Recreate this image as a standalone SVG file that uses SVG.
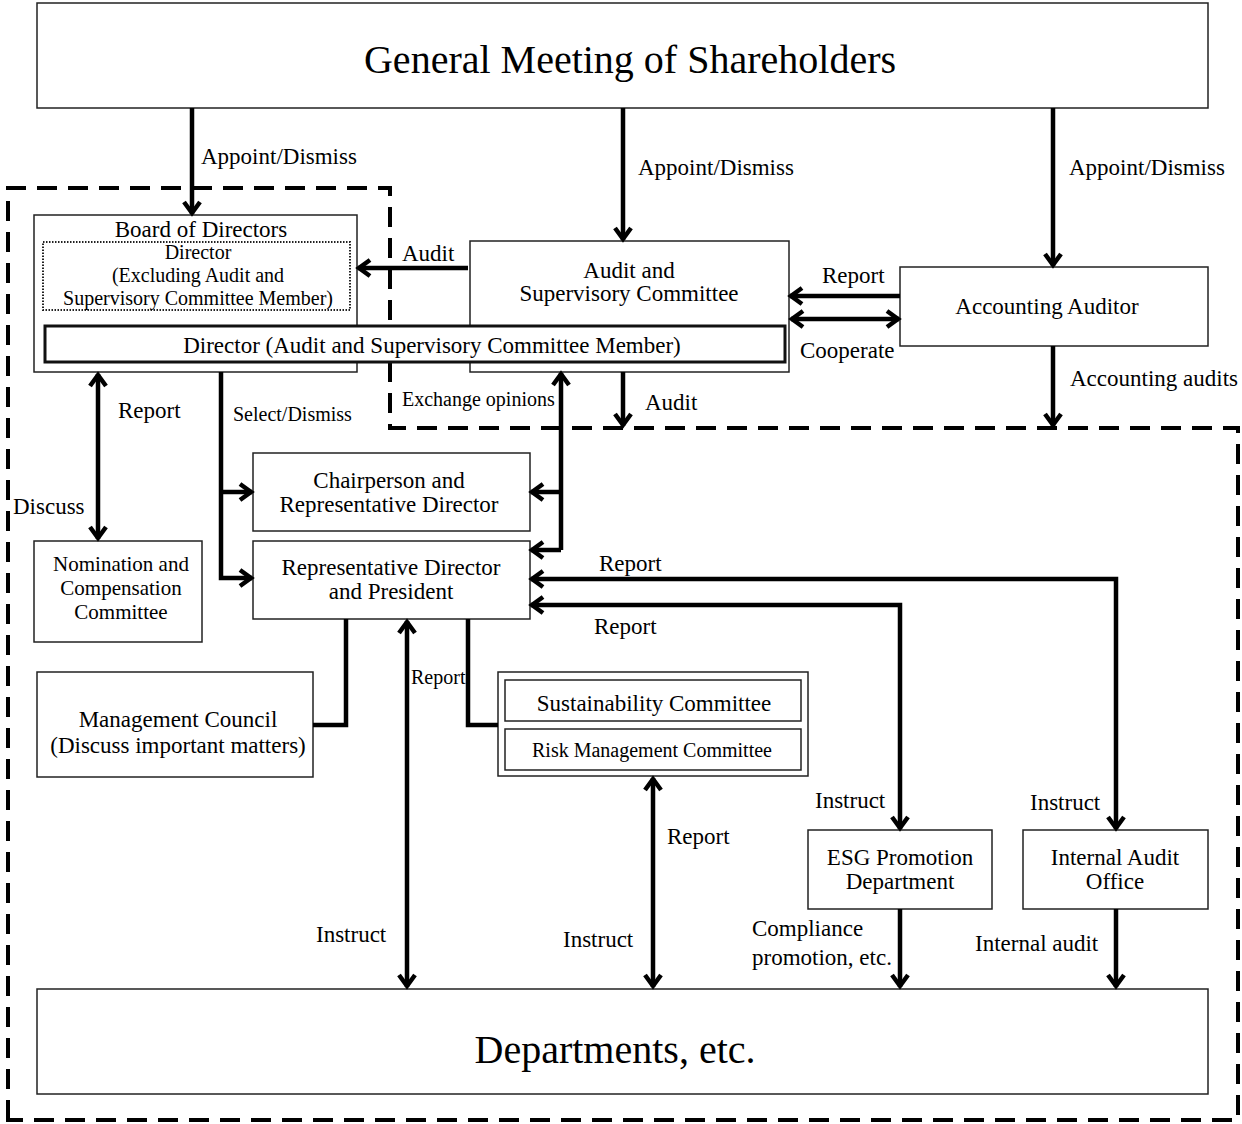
<svg xmlns="http://www.w3.org/2000/svg" width="1242" height="1124" viewBox="0 0 1242 1124">
<defs>
<marker id="ah" viewBox="0 0 18 20" refX="15" refY="10" markerWidth="18" markerHeight="20" markerUnits="userSpaceOnUse" orient="auto-start-reverse">
<path d="M3,2 L14,10 L3,18" fill="none" stroke="#000" stroke-width="4.5" stroke-linejoin="miter" stroke-miterlimit="3"/>
<path d="M8,6 L15,10 L8,14 Z" fill="#000"/>
</marker>
</defs>
<style>
text{font-family:"Liberation Serif","Times New Roman",serif;fill:#000;}
.t{font-size:23px;}
.s{font-size:20px;}
.n{font-size:21px;}
.big{font-size:40px;}
.m{text-anchor:middle;}
.box{fill:#fff;stroke:#222;stroke-width:1.5;}
.c{fill:none;stroke:#000;stroke-width:4.5;}
.a{marker-end:url(#ah);}
.b{marker-start:url(#ah);marker-end:url(#ah);}
.dash{fill:none;stroke:#000;stroke-width:4;stroke-dasharray:20 11;}
</style>
<rect width="1242" height="1124" fill="#fff"/>

<g id="boundary">
<path class="dash" d="M8,1120 L8,188 L390,188 L390,428 L1238,428 L1238,1120 Z"/>
</g>

<g id="gms">
<rect class="box" x="37" y="3" width="1171" height="105"/>
<text class="big m" x="630" y="73">General Meeting of Shareholders</text>
</g>

<g id="board">
<rect class="box" x="34" y="215" width="323" height="157"/>
<text class="t m" x="201" y="237">Board of Directors</text>
<rect x="43" y="242" width="307" height="68" fill="#fff" stroke="#222" stroke-width="2" stroke-dasharray="1.5 1.5"/>
<text class="s m" x="198" y="259">Director</text>
<text class="s m" x="198" y="282">(Excluding Audit and</text>
<text class="s m" x="198" y="305">Supervisory Committee Member)</text>
</g>

<g id="asc">
<rect class="box" x="470" y="241" width="319" height="131"/>
<text class="t m" x="629" y="278">Audit and</text>
<text class="t m" x="629" y="301">Supervisory Committee</text>
</g>

<g id="director-asc">
<rect x="45" y="326" width="740" height="36" fill="#fff" stroke="#111" stroke-width="3"/>
<text class="t m" x="432" y="353">Director (Audit and Supervisory Committee Member)</text>
</g>

<g id="auditor">
<rect class="box" x="900" y="267" width="308" height="79"/>
<text class="t m" x="1047" y="314">Accounting Auditor</text>
</g>

<g id="nomination">
<rect class="box" x="34" y="541" width="168" height="101"/>
<text class="n m" x="121" y="571">Nomination and</text>
<text class="n m" x="121" y="595">Compensation</text>
<text class="n m" x="121" y="619">Committee</text>
</g>

<g id="chair">
<rect class="box" x="253" y="453" width="277" height="78"/>
<text class="t m" x="389" y="488">Chairperson and</text>
<text class="t m" x="389" y="512">Representative Director</text>
</g>

<g id="president">
<rect class="box" x="253" y="541" width="277" height="78"/>
<text class="t m" x="391" y="575">Representative Director</text>
<text class="t m" x="391" y="599">and President</text>
</g>

<g id="council">
<rect class="box" x="37" y="672" width="276" height="105"/>
<text class="t m" x="178" y="727">Management Council</text>
<text class="t m" x="178" y="753">(Discuss important matters)</text>
</g>

<g id="committees">
<rect class="box" x="498" y="672" width="310" height="104"/>
<rect class="box" x="505" y="680" width="296" height="41"/>
<text class="t m" x="654" y="711">Sustainability Committee</text>
<rect class="box" x="505" y="729" width="296" height="41"/>
<text class="s m" x="652" y="757">Risk Management Committee</text>
</g>

<g id="esg">
<rect class="box" x="808" y="830" width="184" height="79"/>
<text class="t m" x="900" y="865">ESG Promotion</text>
<text class="t m" x="900" y="889">Department</text>
</g>

<g id="iao">
<rect class="box" x="1023" y="830" width="185" height="79"/>
<text class="t m" x="1115" y="865">Internal Audit</text>
<text class="t m" x="1115" y="889">Office</text>
</g>

<g id="departments">
<rect class="box" x="37" y="989" width="1171" height="105"/>
<text class="big m" x="615" y="1063">Departments, etc.</text>
</g>

<g id="connectors">
<path class="c a" d="M192,108 L192,214"/>
<path class="c a" d="M623,108 L623,240"/>
<path class="c a" d="M1053,108 L1053,266"/>
<path class="c a" d="M468,268 L358,268"/>
<path class="c a" d="M900,296 L790,296"/>
<path class="c b" d="M791,319 L899,319"/>
<path class="c a" d="M1053,346 L1053,426"/>
<path class="c a" d="M623,372 L623,426"/>
<path class="c b" d="M98,374 L98,539"/>
<path class="c a" d="M221,372 L221,578 L252,578"/>
<path class="c a" d="M221,492 L252,492"/>
<path class="c a" d="M561,550 L561,373"/>
<path class="c a" d="M561,550 L531,550"/>
<path class="c a" d="M561,492 L531,492"/>
<path class="c b" d="M531,579 L1116,579 L1116,829"/>
<path class="c b" d="M531,605 L900,605 L900,829"/>
<path class="c" d="M346,619 L346,725 L313,725"/>
<path class="c" d="M468,619 L468,725 L498,725"/>
<path class="c b" d="M407,621 L407,987"/>
<path class="c b" d="M653,778 L653,987"/>
<path class="c a" d="M900,909 L900,987"/>
<path class="c a" d="M1116,909 L1116,987"/>
</g>

<g id="labels">
<text class="t" x="201" y="164">Appoint/Dismiss</text>
<text class="t" x="638" y="175">Appoint/Dismiss</text>
<text class="t" x="1069" y="175">Appoint/Dismiss</text>
<text class="t" x="402" y="261">Audit</text>
<text class="t" x="822" y="283">Report</text>
<text class="t" x="800" y="358">Cooperate</text>
<text class="t" x="1070" y="386">Accounting audits</text>
<text class="s" x="402" y="406">Exchange opinions</text>
<text class="t" x="645" y="410">Audit</text>
<text class="t" x="118" y="418">Report</text>
<text class="s" x="233" y="421">Select/Dismiss</text>
<text class="t" x="13" y="514">Discuss</text>
<text class="t" x="599" y="571">Report</text>
<text class="t" x="594" y="634">Report</text>
<text class="s" x="411" y="684">Report</text>
<text class="t" x="815" y="808">Instruct</text>
<text class="t" x="1030" y="810">Instruct</text>
<text class="t" x="667" y="844">Report</text>
<text class="t" x="752" y="936">Compliance</text>
<text class="t" x="752" y="965">promotion, etc.</text>
<text class="t" x="316" y="942">Instruct</text>
<text class="t" x="563" y="947">Instruct</text>
<text class="t" x="975" y="951">Internal audit</text>
</g>
</svg>
